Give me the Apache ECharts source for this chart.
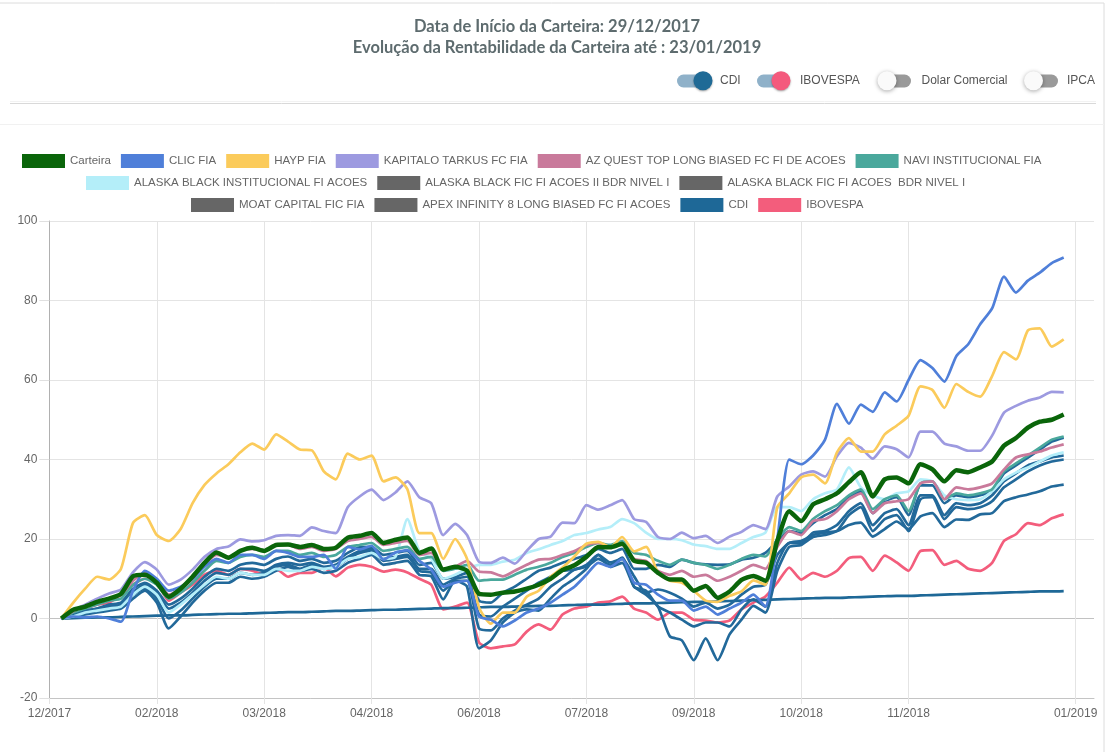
<!DOCTYPE html>
<html>
<head>
<meta charset="utf-8">
<script src="https://cdn.jsdelivr.net/npm/echarts@6/dist/echarts.min.js"></script>
<style>
html,body{margin:0;padding:0;background:#fff;}
#c{width:1106px;height:752px;}
</style>
</head>
<body>
<div id="c"></div>
<script>
// ---- x axis ticks (index of sample point -> label) ----
const xTickIndex = [0, 9, 18, 27, 36, 45, 54, 63, 72, 86];
const xTickLabels = ['12/2017','02/2018','03/2018','04/2018','06/2018','07/2018','09/2018','10/2018','11/2018','01/2019'];
const yTicks = [-20, 0, 20, 40, 60, 80, 100];

// ---- series values (% return), sample points 1..85 ----
const carteira = [0,2.2,3,4.2,5,6.2,10.6,11,9,5.5,
 7.5,10.5,14,16.6,15.3,17,17.8,17,18.5,18.6,
 18,18.5,17.5,17.8,20.3,20.8,21.5,19,19.8,20.4,
 16.5,17.6,12.3,13,12,6.2,6,6.5,6.8,7.5,
 8.5,10,12.2,13.4,15.5,18,17.9,18.8,14.5,14,
 11.5,9.8,9.8,7,8.2,5.2,6.8,9.7,10.7,9.5,
 19.5,27,24.5,28.7,30,31.5,34.3,36.8,30.7,35,
 35.5,34,38.8,37.5,34.5,37.3,36.8,38,39.5,43.5,
 45.4,48,49.5,50,51.3];
const clic = [0,0.5,0.3,0.5,0,-0.8,7,12,10,7,
 8,10,13,15,14,16,16,15,17,16.5,
 15.5,15.5,16,12.5,18,17.4,18.3,14.8,16.6,17.2,
 14.5,12.3,8,9,9.5,0.5,-0.3,-2,-0.5,1.5,
 2.5,4,6,8,11,14,13,15,9,8.5,
 6,4.5,4.5,2,3,1,2.5,4,6,3,
 20,40,38.8,41,45,54,49,53.8,52,56.9,
 54.6,60,65,63,59.6,66,69,74,78,86,
 82,85,87,89.4,90.8];
const hayp = [0,4,7.5,10.5,9.8,12.5,24,26,21,19.5,
 22.5,29,33.6,36.5,38.8,41.8,44,42.5,46.3,44.5,
 42.5,42.3,37,35,41.5,40,41,34.5,35.5,32.5,
 21.5,21.5,15,20,15,2.8,-1.3,1.5,1.5,5.5,
 7,10.5,12.8,15.6,18.8,19.3,17.9,20.5,16.9,18,
 11.6,9.5,9,7,4.5,4.2,5.7,6.8,9.6,8.5,
 28,31.5,35.5,36.2,34,41.8,45.4,42,42,46.3,
 48.5,51,58.4,57.5,53,59,57,55.8,61,67,
 65.2,72.5,73,68.4,70.2];
const kapitalo = [0,2,3.5,5,6.3,7.3,11.6,14.2,12.3,8.5,
 9.8,12.3,15.5,17.5,18.1,19.9,19.4,19.7,20.8,21,
 20.8,22.9,22,21.5,28,30.7,32.4,29.8,31.7,34.5,
 30.5,29,21,23.8,21,14.3,14,15.3,13.8,17,
 20,20.6,24.1,24,28.5,27.4,28.5,29.8,25,24.3,
 20.5,20,21.6,20.2,20.8,19,20.6,21.8,23.5,22.5,
 30.7,33.2,36.2,37,35.7,40.8,44.2,43,40.2,43.3,
 42.6,40.5,47,47,44,43.3,42.2,42.2,46,51.8,
 53.5,54.8,55.6,57,56.9];
const azQuest = [0,1.8,3,4,5,6,9.5,11.5,9.5,6,
 7.5,10,13.5,16,15.5,17,17.5,17,18.5,18.5,
 17.5,18,17,17.5,19.5,20,20.5,18.5,19,19.5,
 16,16.5,12.5,13,14.5,11.8,11.6,10.6,12,13.5,
 14.8,15,16,17,18.5,19,18,18.5,15,14.5,
 12,11,12,10.5,11,9.5,10.5,12,13.5,12.5,
 18,22,21,24.5,25,27,30,31.5,26.5,29,
 29.5,30,34,34.5,30,33,32.5,33,34,37.5,
 40.5,41.3,42,43,43.8];
const navi = [0,1.5,2.5,3.5,4.5,5,8.5,10,8.5,5,
 6.5,9,12,14.5,14,15.5,16,15.5,17,17,
 16,16.5,15.5,16,18,18.5,19,17,17.5,18,
 15,15.5,12,12.5,13.5,9.5,9.8,9.8,11,12.3,
 13,14,15.5,16.5,18,19,18.5,19.5,16.5,16,
 14.5,13.5,14.8,14,13.5,12.5,13.5,15,16,15.6,
 20,23,22,25,27,28.5,31,32.5,27.5,30,
 31,27,34,34.5,30,31.5,31,31.5,32.5,37,
 39,41,43,45,45.8];
const alaskaInst = [0,0.5,1.5,2,2.5,3,6,8,6,1.5,
 3.5,6,8.5,10.5,10,11.5,11,11,12.5,12,
 12,13,12.5,13,15,15.5,16.5,15,15.5,25,
 17,15,10,11,12.5,13.5,13.5,14.3,14.8,16.5,
 17.4,18.5,19.5,21,21.5,22.4,23,25,24,21.6,
 20,20,19.7,18.6,18.2,17.5,17.5,19,20.5,21.6,
 28,28,27,30,31.5,32.5,38,33,31,30,
 31.5,32,35,34.5,31,30,29.8,30,32,35,
 36.7,38,39.5,41,41.8];
const alaskaII = [0,0.5,1,1.5,2,2.5,5,7,4,-2.5,
 0.5,4,7,9,9,10.5,10,10.5,12,13,
 12,12.5,11.5,12,14,15,16,13.5,14,14.5,
 11,10.6,4.8,9.5,8,-7.5,-5.5,-1,1.5,2.3,
 2,5,8,10,12.5,16,13,14,8,6,
 3,-4.5,-5.5,-10.5,-5,-10.5,-4,-0.3,3.2,1.5,
 12,18,18.5,20.5,21,22,26,28,22,25,
 26,22,30,30.5,25,28,27.5,28,29.5,33,
 35,37,38.5,39.5,40];
const alaskaBdr = [0,0.8,1.5,2,2.5,3,6,7.5,5,0,
 2,5,8,10,10,11.5,11,11.5,13,13.5,
 12.5,13.5,12.5,13,15,16.5,17,14.5,15,15.5,
 12,11.5,7,9.5,9.5,-2.5,-3,0,2,3.5,
 5,8,10,12.3,13,15,13.5,15.3,8,7,
 3,1.5,-0.3,-2,-1,-1,-2,2.3,4.8,3,
 14,19,19,21.6,22,23.5,27,29,23.5,26.5,
 27.5,23.5,31,31,26,29,28.5,29,31,34.5,
 36.5,38.5,39.5,40.5,41];
const moat = [0,1,2,2.5,3.5,4,7.5,9,7,3.5,
 5,7.5,10.5,12.5,12,13.5,14,13.5,15,15.6,
 14.5,15,14,14.5,16.5,17.9,18,16,16.5,17,
 13.5,14,10,10.5,11.5,4.5,4,6.5,8,10,
 12,12.8,14,15,16,17.5,16.5,17.5,12.5,12.5,
 13.5,13,14.8,14,13.6,13.5,13.6,14.8,15.3,16.5,
 19.5,22,21.5,24,26,27.5,30.5,32,26.5,29.5,
 30.5,26,33.5,33.5,29,31,30.5,31,32,36.5,
 38.5,40.5,42.5,44.5,45.5];
const apex = [0,1,1.8,2.5,3,3.5,6.5,8.5,6.5,2.5,
 4,6.5,9.5,11.5,11,12.5,12.5,12,13.5,14,
 13.5,14,13,13.5,15.5,17,17.5,15,15.5,16,
 12.5,12.5,8.5,10,10.5,1,0.5,3,5,7,
 9,10.5,12,12.3,13.5,16,14.1,15,10.6,6.5,
 7.3,6.5,5,3,4,2.5,3.5,6,8,8.5,
 16,19,19.5,21,21.6,22,23.5,24.1,20.6,22.5,
 24.4,22.5,25.7,26.5,23,24.9,24.8,26.2,26.5,29.5,
 30.5,31.2,32,33.2,33.7];
const cdi = [0,0.1,0.2,0.3,0.3,0.4,0.5,0.6,0.7,0.8,
 0.8,0.9,1.0,1.1,1.2,1.2,1.3,1.4,1.5,1.6,
 1.6,1.7,1.8,1.9,1.9,2.0,2.1,2.2,2.2,2.3,
 2.4,2.5,2.6,2.6,2.7,2.8,2.9,2.9,3.0,3.1,
 3.2,3.2,3.3,3.4,3.5,3.5,3.6,3.7,3.8,3.8,
 3.9,4.0,4.1,4.2,4.2,4.3,4.4,4.5,4.6,4.7,
 4.8,4.9,5.0,5.1,5.2,5.2,5.3,5.4,5.5,5.6,
 5.7,5.7,5.8,5.9,6.0,6.1,6.2,6.3,6.4,6.5,
 6.6,6.7,6.8,6.8,6.9];
const ibov = [0,1.5,2.5,3.5,4,6,8.5,10,9,4.5,
 6.5,8.5,11,12,11,12.5,12,11,12.5,10.5,
 11.5,11.5,12.8,10.6,12.8,13.5,13,11.8,12.3,11.6,
 10,8.5,2.3,3,4,-6,-7.5,-7,-6.5,-3.3,
 -1.5,-2.8,1,2.5,3,4,4.3,5.5,2.5,1.5,
 -0.3,1.5,1.5,-0.3,-0.5,-1,-0.5,2.3,4,5.5,
 9,12.8,9.8,11.5,10.5,12,15.2,15.5,12,15.8,
 14.1,12,17,17.2,13.5,14.5,12.5,12,14,19.5,
 21.2,24,23.5,25.2,26.2];

const seriesNames = ['Carteira','CLIC FIA','HAYP FIA','KAPITALO TARKUS FC FIA',
 'AZ QUEST TOP LONG BIASED FC FI DE ACOES','NAVI INSTITUCIONAL FIA',
 'ALASKA BLACK INSTITUCIONAL FI ACOES','ALASKA BLACK FIC FI ACOES II BDR NIVEL I',
 'ALASKA BLACK FIC FI ACOES  BDR NIVEL I','MOAT CAPITAL FIC FIA',
 'APEX INFINITY 8 LONG BIASED FC FI ACOES','CDI','IBOVESPA'];
const seriesValues = [carteira, clic, hayp, kapitalo, azQuest, navi, alaskaInst,
 alaskaII, alaskaBdr, moat, apex, cdi, ibov];
const lineColors = ['#0a650a','#4f7fd9','#fbcb5b','#9d9ae0','#c97a9b','#4aa89c','#b4eef9',
 '#22699a','#22699a','#22699a','#22699a','#1e6897','#f35d7c'];
const legendColors = ['#0a650a','#4f7fd9','#fbcb5b','#9d9ae0','#c97a9b','#4aa89c','#b4eef9',
 '#666666','#666666','#666666','#666666','#1e6897','#f35d7c'];
const legendRows = [[0,1,2,3,4,5],[6,7,8],[9,10,11,12]];

const FONT = '"Liberation Sans", Arial, Helvetica, sans-serif';

const chart = echarts.init(document.getElementById('c'), null, {renderer:'canvas'});

const series = seriesNames.map((name, k) => ({
  name: name,
  type: 'line',
  symbol: 'none',
  smooth: 0.2,
  z: 30 - k,
  color: lineColors[k],
  lineStyle: {width: k === 0 ? 4.5 : 2.7, color: lineColors[k]},
  data: seriesValues[k].map((v, i) => [i + 1, v])
}));

const legends = legendRows.map((row, r) => ({
  data: row.map(k => ({name: seriesNames[k], itemStyle: {color: legendColors[k], borderWidth: 0}})),
  left: [22, 86, 191][r],
  top: [154, 176, 198][r],
  padding: 0,
  icon: 'rect',
  itemWidth: 43,
  itemHeight: 14,
  itemGap: 10,
  selectedMode: false,
  textStyle: {fontFamily: FONT, fontSize: 11.5, color: '#666'}
}));

// header toggles
const toggles = [
  {label:'CDI', trackX:677, knobX:703, on:true, color:'#1f6a96', textX:720},
  {label:'IBOVESPA', trackX:757, knobX:781, on:true, color:'#f45a7d', textX:800},
  {label:'Dolar Comercial', trackX:880, knobX:887, on:false, color:'#fafafa', textX:921.5},
  {label:'IPCA', trackX:1027, knobX:1033.5, on:false, color:'#fafafa', textX:1067}
];
const graphics = [
  {type:'rect', shape:{x:-2, y:3, width:1106, height:760}, style:{fill:'none', stroke:'#dcdcdc', lineWidth:1}, silent:true},
  {type:'line', shape:{x1:10, y1:101.5, x2:1096, y2:101.5}, style:{stroke:'#f2f2f2', lineWidth:1}, silent:true},
  {type:'line', shape:{x1:10, y1:103.5, x2:1096, y2:103.5}, style:{stroke:'#d9d9d9', lineWidth:1}, silent:true},
  {type:'line', shape:{x1:0, y1:124.5, x2:1104, y2:124.5}, style:{stroke:'#f1f1f1', lineWidth:1}, silent:true}
];
toggles.forEach(t => {
  graphics.push({type:'rect', shape:{x:t.trackX, y:74.5, width:31, height:13, r:6.5},
    style:{fill: t.on ? '#8fb1c9' : '#9a9a9a'}, silent:true});
  graphics.push({type:'circle', shape:{cx:t.knobX, cy:80.7, r:9.5},
    style:{fill:t.color, shadowBlur: t.on ? 2 : 4, shadowColor:'rgba(0,0,0,0.35)', shadowOffsetY:1}, silent:true});
  graphics.push({type:'text', x:t.textX, y:81, style:{text:t.label, fill:'#555', font:'12px ' + FONT, textVerticalAlign:'middle', textAlign:'left'}, silent:true});
});

chart.setOption({
  animation: false,
  backgroundColor: '#fff',
  title: [
    {text:'Data de Início da Carteira: 29/12/2017', left:552, top:13, textAlign:'center',
     textStyle:{fontFamily:'Lato, "Open Sans", sans-serif', fontWeight:'bold', fontSize:16.5, color:'#5d6b6e'}},
    {text:'Evolução da Rentabilidade da Carteira até : 23/01/2019', left:552, top:34, textAlign:'center',
     textStyle:{fontFamily:'Lato, "Open Sans", sans-serif', fontWeight:'bold', fontSize:16.5, color:'#5d6b6e'}}
  ],
  legend: legends,
  graphic: graphics,
  grid: {left:49.4, right:12, top:221, bottom:54, containLabel:false},
  xAxis: {
    type:'value', min:0, max:87.54,
    axisLine:{show:true, onZero:false, lineStyle:{color:'#c4c4c4'}},
    axisTick:{show:true, customValues:xTickIndex, length:6, lineStyle:{color:'#e4e4e4'}},
    axisLabel:{customValues:xTickIndex, color:'#666', fontSize:12, fontFamily:FONT, margin:10,
      formatter: v => { const j = xTickIndex.indexOf(Math.round(v)); return j >= 0 ? xTickLabels[j] : ''; }},
    splitLine:{show:true, lineStyle:{color:'#e4e4e4'}}
  },
  yAxis: {
    type:'value', min:yTicks[0], max:yTicks[yTicks.length-1], interval:20,
    axisLine:{show:true, onZero:false, lineStyle:{color:'#b0b0b0'}},
    axisTick:{show:true, length:10, lineStyle:{color:'#e0e0e0'}},
    axisLabel:{color:'#666', fontSize:12, fontFamily:FONT, margin:12},
    splitLine:{show:true, lineStyle:{color:['#e4e4e4','#c2c2c2','#e4e4e4','#e4e4e4','#e4e4e4','#e4e4e4','#e4e4e4']}}
  },
  series: series
});
</script>
</body>
</html>
